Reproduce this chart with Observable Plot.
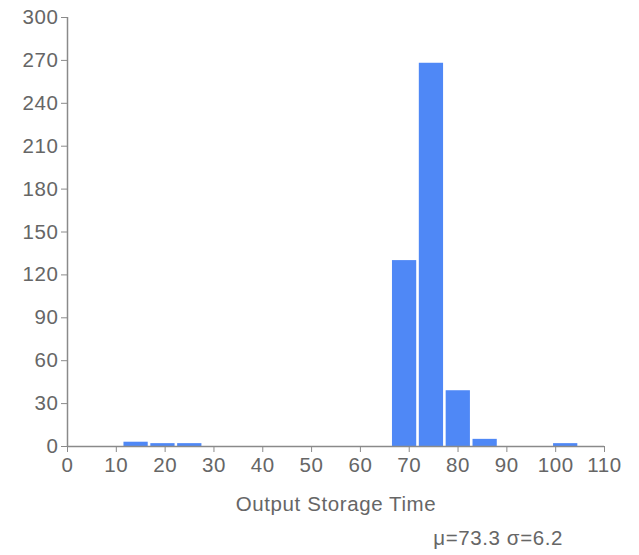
<!DOCTYPE html>
<html>
<head>
<meta charset="utf-8">
<script src="https://cdn.jsdelivr.net/npm/d3@7"></script>
<script src="https://cdn.jsdelivr.net/npm/@observablehq/plot@0.6"></script>
<style>
  html, body { margin: 0; padding: 0; background: #fff; }
  body { width: 639px; height: 555px; overflow: hidden; font-family: "Liberation Sans", Arial, sans-serif; }
  #caption { font-size: 20.5px; letter-spacing: 0.6px; line-height: 24px; color: #666; text-align: right; padding-right: 76px; margin-top: 6px; }
</style>
</head>
<body>
<div id="chart"></div>
<div id="caption"></div>
<script>
// Histogram bins: left edge, bin width, and count per bin
const binStart = [11.3, 16.8, 22.3, 27.8, 33.3, 38.8, 44.3, 49.8, 55.3, 60.8, 66.3, 71.8, 77.3, 82.8, 88.3, 93.8, 99.3];
const binWidth = 5.5;
const counts = [3, 2, 2, 0, 0, 0, 0, 0, 0, 0, 130, 268, 39, 5, 0, 0, 2];
const xTicks = [0, 10, 20, 30, 40, 50, 60, 70, 80, 90, 100, 110];
const yTicks = [0, 30, 60, 90, 120, 150, 180, 210, 240, 270, 300];
const xLabel = "Output Storage Time";
const stats = { mean: 73.3, sd: 6.2 };

const bins = binStart.map((x0, i) => ({ x1: x0, x2: x0 + binWidth, count: counts[i] }));

const axisColor = "#8a8a8a";
const textColor = "#666";

const chart = Plot.plot({
  width: 639,
  height: 520,
  marginTop: 17,
  marginLeft: 67,
  marginRight: 35,
  marginBottom: 74,
  style: { fontFamily: "'Liberation Sans', Arial, sans-serif", fontSize: "20.5px", letterSpacing: "0.6px", color: textColor, background: "#fff", overflow: "visible" },
  x: { domain: [0, 110] },
  y: { domain: [0, 300] },
  marks: [
    Plot.rectY(bins.filter(d => d.count > 0), {
      x1: "x1", x2: "x2", y: "count",
      fill: "#4f88f6", insetLeft: 1.3, insetRight: 1.3
    }),
    Plot.ruleX([0], { stroke: axisColor, strokeWidth: 1.5 }),
    Plot.ruleY([0], { stroke: axisColor, strokeWidth: 1.5 }),
    Plot.axisY({ ticks: yTicks, tickSize: 6, tickPadding: 3, stroke: axisColor, label: null, fill: textColor }),
    Plot.axisX({ ticks: xTicks, tickSize: 6, tickPadding: 5, stroke: axisColor, fill: textColor,
      label: xLabel, labelAnchor: "center", labelOffset: 64, labelArrow: "none" })
  ]
});
document.getElementById("chart").appendChild(chart);
document.getElementById("caption").textContent = `μ=${stats.mean} σ=${stats.sd}`;
</script>
</body>
</html>
